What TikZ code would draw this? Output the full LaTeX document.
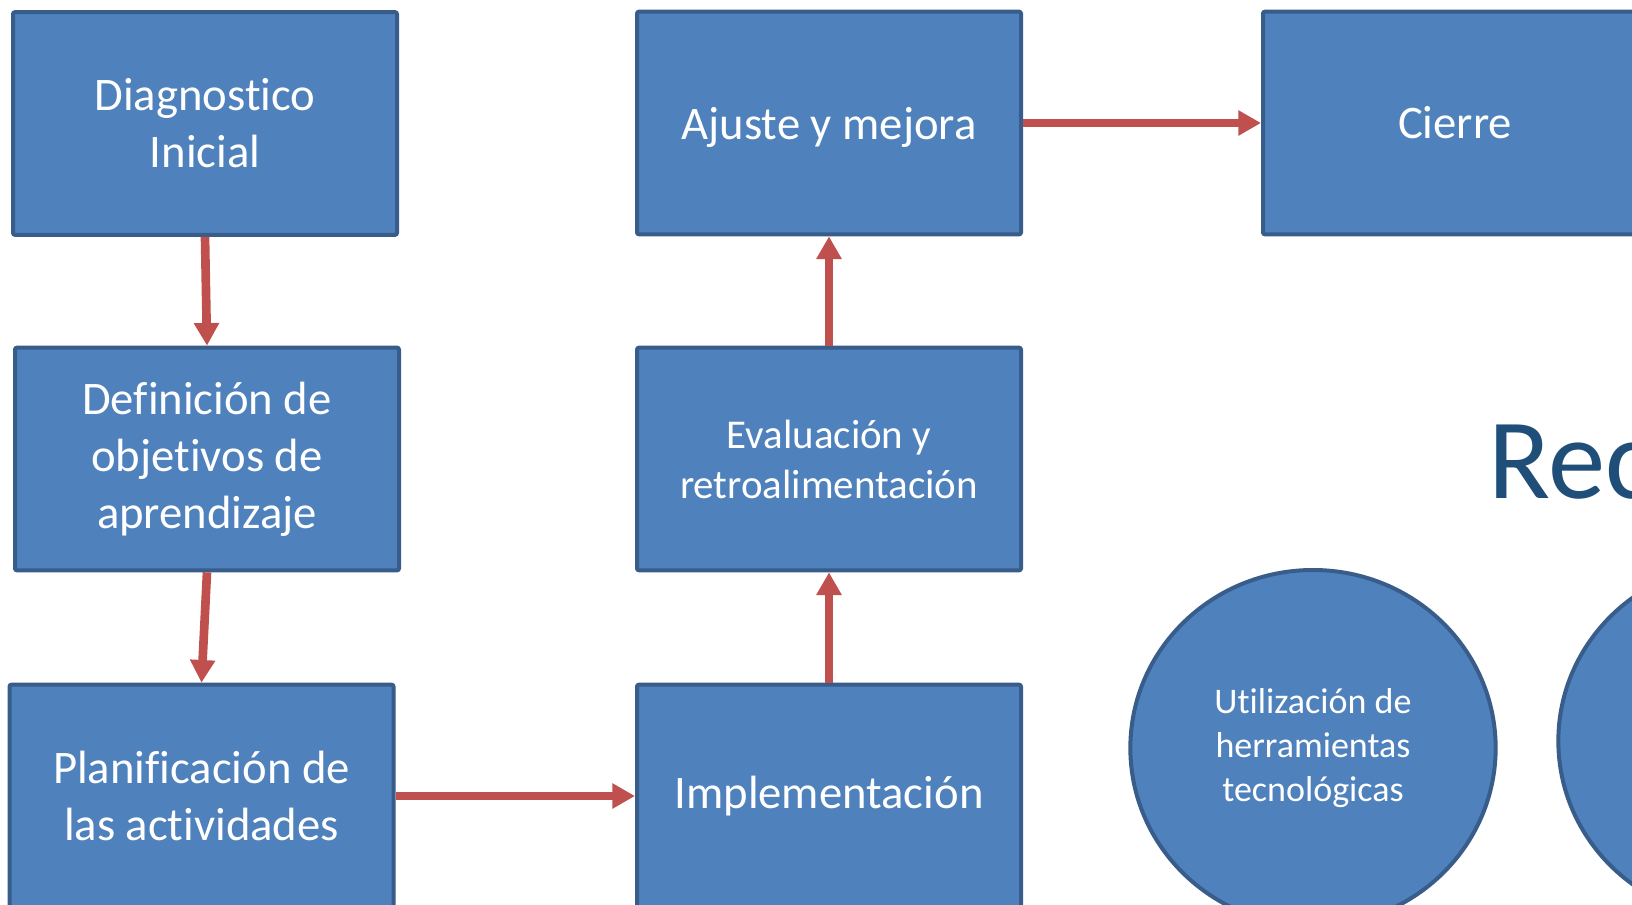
\documentclass[tikz,border=0pt]{standalone}
\usepackage{fontspec}
\setmainfont[Ligatures=NoCommon]{Carlito}
\usetikzlibrary{positioning,arrows.meta,shapes.geometric}
\definecolor{boxfill}{HTML}{4F81BD}
\definecolor{boxline}{HTML}{385D8A}
\definecolor{arrowred}{HTML}{C0504D}
\definecolor{titleblue}{HTML}{1F4E79}

\begin{document}
\begin{tikzpicture}[
	x=0.75pt, y=-0.75pt,
	box/.style = {rectangle, rounded corners=1.5pt, draw=boxline, line width=3pt,
		fill=boxfill, minimum width=288pt, minimum height=167pt,
		align=center, text=white,
		font=\fontsize{35}{42.7}\selectfont},
	smallbox/.style = {box, font=\fontsize{30.7}{37.5}\selectfont},
	round/.style = {ellipse, draw=boxline, line width=3pt, fill=boxfill,
		minimum width=274pt, minimum height=267pt, inner sep=0pt,
		align=center, text=white,
		font=\fontsize{27}{33}\selectfont},
	link/.style = {draw=arrowred, line width=6.5pt,
		-{Triangle[length=17pt, width=18pt]}},
	]
	\path[use as bounding box] (0,0) rectangle (1632,904);
	\clip (0,0) rectangle (1632,904);
	\fill[white] (0,0) rectangle (1632,904);
	
	% left column
	\node[box] (diag) at (205,123.5) {Diagnostico\\Inicial};
	\node[box] (objet) at (207,459) {Definición de\\objetivos de\\aprendizaje};
	\node[box] (plan) at (201.5,796) {Planificación de\\las actividades};
	
	% middle column
	\node[box] (impl) at (829,796) {Implementación};
	\node[smallbox] (eval) at (829,459) {Evaluación y\\retroalimentación};
	\node[box, text depth=0pt] (ajuste) at (829,123) {Ajuste y mejora};
	
	% right side
	\node[box] (cierre) at (1455,123) {Cierre};
	\node[anchor=base west, inner sep=0pt, text=titleblue,
		font=\fontsize{86}{100}\selectfont] (rec) at (1488,498) {Rec};
	\node[round] (herr) at (1313,748) {Utilización de\\herramientas\\tecnológicas};
	\node[round] (circ2) at (1741,741) {};
	
	\draw[link] (diag.south) -- (objet.north);
	\draw[link] (objet.south) -- (plan.north);
	\draw[link] (plan.east) -- (impl.west);
	\draw[link] (impl.north) -- (eval.south);
	\draw[link] (eval.north) -- (ajuste.south);
	\draw[link] (ajuste.east) -- (cierre.west);
\end{tikzpicture}
\end{document}
